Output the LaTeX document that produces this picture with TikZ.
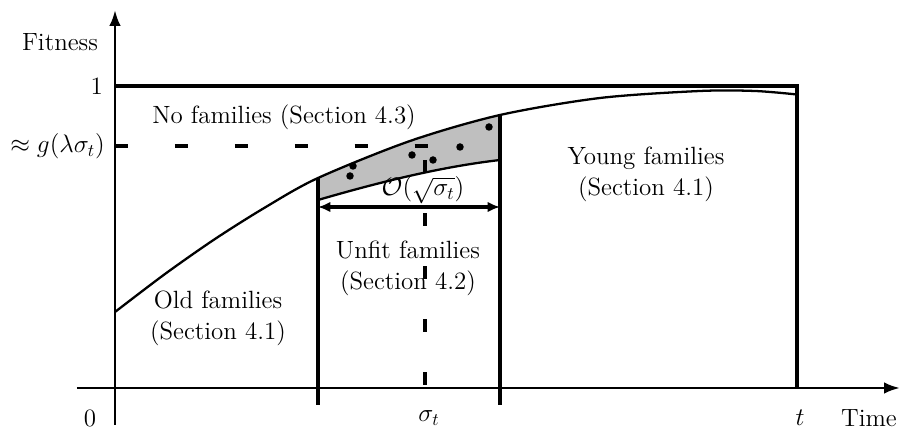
\documentclass[tikz,border=0pt]{standalone}
\usetikzlibrary{arrows.meta}
\tikzset{
	axis/.style={line width=1.5pt, -{Latex[length=9pt,width=6.5pt]}},
	bar/.style={line width=1.8pt},
	fitline/.style={line width=1.3pt},
	guideh/.style={line width=1.8pt, dash pattern=on 7.4pt off 26.7pt},
	guidev/.style={line width=1.8pt, dash pattern=on 7.4pt off 22.8pt},
	region/.style={align=center},
}
\begin{document}
\begin{tikzpicture}[font=\fontsize{14.2}{17.5}\selectfont]
		\useasboundingbox (-2.3,-0.82) rectangle (15.7,7.76);
		
		% shaded band of unfit families
		\begin{scope}
			\clip plot[smooth] coordinates {(0,1.52) (1,2.28) (2,2.98) (3,3.61) (4.06,4.2) (5.9,4.94) (7.7,5.46) (9.7,5.8) (11.7,5.94) (12.8,5.94) (13.64,5.87)} -- (13.64,0) -- (0,0) -- cycle;
			\fill[gray!50] (4.06,3.76) .. controls (5.3,4.12) and (6.5,4.42) .. (7.7,4.56) -- (7.7,7.5) -- (4.06,7.5) -- cycle;
		\end{scope}
		
		\coordinate (O) at (0, 0);
		\coordinate (lowL) at (4.06, -0.34);
		\coordinate (lowR) at (7.7, -0.34);
		\coordinate (topL) at (4.06, 4.2);
		\coordinate (topR) at (7.7, 5.46);
		\coordinate (oneL) at (0, 6.04);
		\coordinate (oneR) at (13.64, 6.04);
		\coordinate (tA) at (13.64, 0);
		
		% axes
		\draw[axis] (-0.76, 0) -- (15.7, 0);
		\draw[axis] (0, -0.74) -- (0, 7.56);
		
		% fitness curve and band
		\draw[fitline] plot[smooth] coordinates {(0,1.52) (1,2.28) (2,2.98) (3,3.61) (4.06,4.2) (5.9,4.94) (7.7,5.46) (9.7,5.8) (11.7,5.94) (12.8,5.94) (13.64,5.87)};
		\draw[fitline] (4.06,3.76) .. controls (5.3,4.12) and (6.5,4.42) .. (7.7,4.56);
		
		\draw[bar] (oneL) -- (oneR) -- (tA);
		\draw[bar] (lowL) -- (topL);
		\draw[bar] (lowR) -- (topR);
		
		\draw[guideh] (0, 4.84) -- (6.3, 4.84);
		\draw[guidev] (6.2, 4.56) -- (6.2, 0);
		
		\draw[bar, {Latex[length=7pt,width=6pt]}-{Latex[length=7pt,width=6pt]}] (4.06, 3.62) -- (7.7, 3.62);
		
		\fill (4.7, 4.24) circle (0.075);
		\fill (4.76, 4.44) circle (0.075);
		\fill (5.94, 4.66) circle (0.075);
		\fill (6.36, 4.56) circle (0.075);
		\fill (6.9, 4.82) circle (0.075);
		\fill (7.48, 5.22) circle (0.075);
		
		% labels
		\node (lblfit) at (-1.1, 6.92) {Fitness};
		\node[anchor=east] (lblone) at (-0.12, 6.04) {1};
		\node[anchor=east] (lblg) at (-0.08, 4.84) {$\approx g(\lambda\sigma_t)$};
		\node (lblzero) at (-0.5, -0.6) {0};
		\node (lblsigma) at (6.28, -0.6) {$\sigma_t$};
		\node (lblt) at (13.7, -0.6) {$t$};
		\node (lbltime) at (15.08, -0.6) {Time};
		\node (lblwidth) at (6.16, 3.96) {$\mathcal{O}(\sqrt{\sigma_t})$};
		
		\node[region] (nofam) at (3.38, 5.42) {No families (Section 4.3)};
		\node[region] (youngfam) at (10.62, 4.28) {Young families\\(Section 4.1)};
		\node[region] (unfitfam) at (5.86, 2.4) {Unfit families\\(Section 4.2)};
		\node[region] (oldfam) at (2.06, 1.4) {Old families\\(Section 4.1)};
	\end{tikzpicture}
\end{document}
